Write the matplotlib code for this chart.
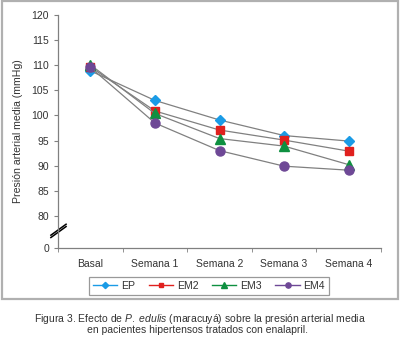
import matplotlib
matplotlib.use("Agg")
import matplotlib.pyplot as plt
from matplotlib.patches import Rectangle
from matplotlib.lines import Line2D

plt.rcParams['font.family'] = ['Liberation Sans', 'DejaVu Sans']
plt.rcParams['mathtext.fontset'] = 'custom'
plt.rcParams['mathtext.rm'] = 'Liberation Sans'
plt.rcParams['mathtext.it'] = 'Liberation Sans:italic'

categorias = ['Basal', 'Semana 1', 'Semana 2', 'Semana 3', 'Semana 4']
ep = [108.9, 103.0, 99.1, 96.0, 94.9]
em2 = [109.7, 100.9, 97.1, 95.1, 92.9]
em3 = [110.1, 100.4, 95.4, 93.9, 90.2]
em4 = [109.6, 98.5, 93.0, 89.9, 89.1]

y_ticks = [73.6, 80, 85, 90, 95, 100, 105, 110, 115, 120]
y_labels = ['0', '80', '85', '90', '95', '100', '105', '110', '115', '120']

series = [
    ('EP', ep, 'D', '#1a9be6', 5.5),
    ('EM2', em2, 's', '#e0201e', 6),
    ('EM3', em3, '^', '#0e9040', 6.5),
    ('EM4', em4, 'o', '#6e4896', 6.5),
]

fig = plt.figure(figsize=(4.0, 3.43), dpi=100)
ax = fig.add_axes([0.145, 0.277, 0.8075, 0.679])

x = list(range(len(categorias)))
handles = []
for nombre, vals, mk, col, ms in series:
    ax.plot(x, vals, color='#808080', lw=0.9, marker=mk, markersize=ms,
            markerfacecolor=col, markeredgecolor=col)
    handles.append(Line2D([], [], color=col, lw=1.0, marker=mk, markersize=ms * 0.58,
                          markerfacecolor=col, markeredgecolor=col, label=nombre))

ax.set_xlim(-0.5, 4.5)
ax.set_ylim(73.6, 120)
ax.set_yticks(y_ticks)
ax.set_yticklabels(y_labels)
ax.set_xticks(x)
ax.set_xticklabels(categorias)
ax.set_xticks([i - 0.5 for i in range(6)], minor=True)
ax.tick_params(axis='x', which='major', length=0, pad=8)
ax.tick_params(axis='x', which='minor', length=3, color='#808080', direction='out')
ax.tick_params(axis='y', length=3, color='#808080', direction='out')
ax.tick_params(labelsize=7.5, labelcolor='#333333')
for s in ['top', 'right']:
    ax.spines[s].set_visible(False)
for s in ['left', 'bottom']:
    ax.spines[s].set_color('#808080')
    ax.spines[s].set_linewidth(0.9)

ax.set_ylabel('Presión arterial media (mmHg)', fontsize=7.6, color='#333333', labelpad=6)

# marca de corte del eje
for dy in (0.0, 0.01):
    ax.plot([-0.022, 0.025], [0.045 + dy, 0.092 + dy], transform=ax.transAxes,
            color='black', lw=1.1, clip_on=False)

leg = fig.legend(handles=handles, loc='center', bbox_to_anchor=(0.5225, 0.166), ncol=4,
                 fontsize=7.6, frameon=True, fancybox=False, handlelength=2.3,
                 columnspacing=1.3, handletextpad=0.35, borderpad=0.35)
leg.get_frame().set_edgecolor('#808080')
leg.get_frame().set_linewidth(0.9)
for t in leg.get_texts():
    t.set_color('#333333')

fig.patches.append(Rectangle((0.004, 0.128), 0.99, 0.87, transform=fig.transFigure,
                             fill=False, edgecolor='#b0b0b0', lw=1.6))

fig.text(0.5, 0.070, r'Figura 3. Efecto de $\it{P.}$ $\it{edulis}$ (maracuyá) sobre la presión arterial media',
         ha='center', va='center', fontsize=7.5, color='#333333')
fig.text(0.494, 0.038, 'en pacientes hipertensos tratados con enalapril.',
         ha='center', va='center', fontsize=7.5, color='#333333')

fig.savefig('out.png', dpi=100)
